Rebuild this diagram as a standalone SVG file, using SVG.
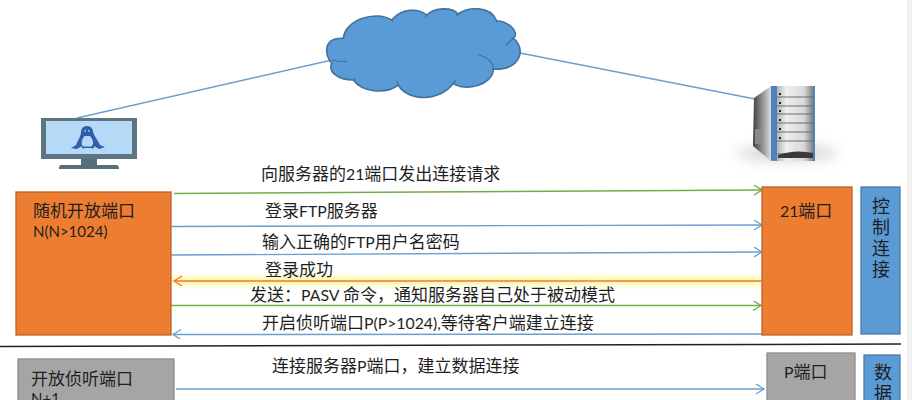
<svg xmlns="http://www.w3.org/2000/svg" width="912" height="400" viewBox="0 0 912 400">
<style>
text{font-family:"Noto Sans CJK SC","Noto Sans",sans-serif;font-size:17px;fill:#1f1f1f}
tspan.la{font-family:Lato,"Noto Sans",sans-serif;font-size:15.800px}
text.la{font-family:Lato,"Noto Sans",sans-serif;font-size:15px}
.o{fill:#ed7d31;stroke:#b8642c;stroke-width:1.3}
.b{fill:#5b9bd5;stroke:#4a7ba6;stroke-width:1.3}
.g{fill:#a5a5a5;stroke:#8c8c8c;stroke-width:1.3}
.l{fill:none;stroke-width:1.4}
.bl{stroke:#6a9fcf}.gr{stroke:#70ad47}.or{stroke:#ed7d31}
.v{font-size:18px;text-anchor:middle}
</style>
<defs>
<marker id="ab" markerWidth="12" markerHeight="12" refX="9" refY="5" orient="auto-start-reverse" markerUnits="userSpaceOnUse"><path d="M1 0L9 5L1 10" fill="none" stroke="#6a9fcf" stroke-width="1.3"/></marker>
<marker id="ag" markerWidth="12" markerHeight="12" refX="9" refY="5" orient="auto-start-reverse" markerUnits="userSpaceOnUse"><path d="M1 0L9 5L1 10" fill="none" stroke="#70ad47" stroke-width="1.3"/></marker>
<marker id="ao" markerWidth="12" markerHeight="12" refX="9" refY="5" orient="auto-start-reverse" markerUnits="userSpaceOnUse"><path d="M1 0L9 5L1 10" fill="none" stroke="#ed7d31" stroke-width="1.3"/></marker>
<filter id="blur" x="-5%" y="-150%" width="110%" height="400%"><feGaussianBlur stdDeviation="3"/></filter>
<filter id="blur2" x="-30%" y="-100%" width="160%" height="300%"><feGaussianBlur stdDeviation="7"/></filter>
<linearGradient id="sv" x1="0" y1="0" x2="1" y2="0"><stop offset="0" stop-color="#8e8e8e"/><stop offset=".35" stop-color="#efefef"/><stop offset=".75" stop-color="#d8d8d8"/><stop offset="1" stop-color="#6f6f6f"/></linearGradient>
<linearGradient id="sd" x1="0" y1="0" x2="1" y2="0"><stop offset="0" stop-color="#3f3f3f"/><stop offset="1" stop-color="#dcdcdc"/></linearGradient>
</defs>
<rect width="912" height="400" fill="#fff"/>
<rect x="907" y="0" width="5" height="400" fill="#f0f0f0"/>

<g id="connectors">
<path class="l bl" d="M77 118L332 60"/>
<path class="l bl" d="M520 53L755 99"/>
<rect x="172" y="277" width="590" height="8" fill="#fff59d" filter="url(#blur)"/>
<path class="l gr" d="M174 193.500L762 190" marker-end="url(#ag)"/>
<path class="l bl" d="M171 226.500L762 225" marker-end="url(#ab)"/>
<path class="l bl" d="M171 255L762 252" marker-end="url(#ab)"/>
<path class="l or" d="M762 281L174 281" marker-end="url(#ao)"/>
<path class="l gr" d="M171 305.500L761 305.500" marker-end="url(#ag)"/>
<path class="l bl" d="M762 334L173 334.500" marker-end="url(#ab)"/>
<path d="M0 346.500L901 344" fill="none" stroke="#222" stroke-width="1.5"/>
<path class="l bl" d="M176 389L764 389" marker-end="url(#ab)"/>
</g>

<g id="cloud">
<path fill="#5b9bd5" stroke="#41719c" stroke-width="1.6" d="M326.700 50C327 41 334 38 343.300 38.300C345 20 375 10 391.700 20C402 8 418 8 426.700 15C435 7 452 7 458 14C468 7 490 5 496.700 20.700C510 22 520 33 513.300 38.300C526 48 522 70 493.300 69.300C493 85 465 92 453.300 83.300C440 102 408 102 398.300 85C385 95 362 92 353.300 80C338 80 328 72 331.700 63.300C329 60 326.500 55 326.700 50Z"/>
<path fill="none" stroke="#41719c" stroke-width="1.300" d="M331.700 60Q338 62 347 61.500M353.300 80L356 78.500M391.700 20L393 21.500M426.700 15L425 18M458 14L456 16M496.700 20.700L497 22.500M513.300 38.300L506 45M493.300 69.300Q494 60 478 54.500M453.300 83.300L456 80.500M398.300 85L397 81"/>
</g>

<g id="client">
<rect x="41" y="118" width="96" height="41" fill="#546e7a" opacity=".95"/>
<rect x="46" y="121" width="86" height="33" fill="#b5d9f7"/>
<path d="M81 159H97V165H81Z" fill="#546e7a"/>
<path d="M61 165H116Q119 165 119 169H59Q59 165 61 165Z" fill="#546e7a"/>
<path fill="#2f5fa8" d="M87 126C91 126 93 129 93 132C94 136 98 140 100 145L105 147L99 149L94 146C95 148 93 149 91 148H85C83 149 81 148 82 146L77 149L71 148L76 145C78 140 81 136 81 132C81 129 83 126 87 126Z"/>
<path fill="#b5d9f7" d="M84.500 136L90 136C92.500 139 94.500 143 91.500 146.500H83C80.500 143 82 139 84.500 136Z"/>
<path fill="#b5d9f7" d="M84.500 130h1.500v1.500h-1.500zM88 130h1.500v1.500h-1.500z"/>
</g>

<g id="server">
<ellipse cx="787" cy="153" rx="50" ry="7" fill="#b0b0b0" opacity=".6" filter="url(#blur2)"/>
<path d="M754 98L771 86V161L753 146Z" fill="url(#sd)"/>
<rect x="755" y="129" width="7" height="15" fill="#8a8a8a"/>
<rect x="771" y="86" width="44" height="75" fill="url(#sv)"/>
<path d="M771 86H777V161L771 160ZM813 87H815V159H813Z" fill="#4f81bd"/>
<path d="M777 97H813M777 106H813M777 114H813M777 123H813M777 132H813M777 141H813M777 154H813" stroke="#6e6e6e" stroke-width="1" fill="none"/>
<path d="M778 155Q795 149 813 153V158H778Z" fill="#3a3a3a"/>
<path d="M779 93h2v2h-2zM779 102h2v2h-2zM779 110h2v2h-2zM779 119h2v2h-2zM779 128h2v2h-2zM779 137h2v2h-2z" fill="#222"/>
</g>

<g id="random-port"><rect class="o" x="16" y="192" width="155" height="143"/>
<text x="33" y="217">随机开放端口</text><text class="la" x="33" y="237">N(N&gt;1024)</text></g>
<g id="port-21"><rect class="o" x="762" y="187" width="90" height="148"/>
<text x="780" y="217"><tspan class="la">21</tspan>端口</text></g>
<g id="control"><rect class="b" x="861" y="187" width="39" height="147"/>
<text class="v" x="881" y="213">控<tspan x="881" dy="21">制</tspan><tspan x="881" dy="21">连</tspan><tspan x="881" dy="20.500">接</tspan></text></g>
<g id="listen-port"><rect class="g" x="18" y="359" width="156" height="60"/>
<text x="31" y="385">开放侦听端口</text><text class="la" x="31" y="404">N+1</text></g>
<g id="port-p"><rect class="g" x="767" y="353" width="88" height="60"/>
<text x="784" y="378"><tspan class="la">P</tspan>端口</text></g>
<g id="data"><rect class="b" x="864" y="355" width="36" height="60"/>
<text class="v" x="883" y="379">数<tspan x="883" dy="21">据</tspan></text></g>

<g id="labels">
<text x="261" y="180">向服务器的<tspan class="la">21</tspan>端口发出连接请求</text>
<text x="265" y="217">登录<tspan class="la">FTP</tspan>服务器</text>
<text x="262" y="248">输入正确的<tspan class="la">FTP</tspan>用户名密码</text>
<text x="265" y="276">登录成功</text>
<text x="250" y="301">发送：<tspan class="la">PASV </tspan>命令，通知服务器自己处于被动模式</text>
<text x="262" y="329">开启侦听端口<tspan class="la">P(P&gt;1024),</tspan>等待客户端建立连接</text>
<text x="272" y="372">连接服务器<tspan class="la">P</tspan>端口，建立数据连接</text>
</g>
</svg>
